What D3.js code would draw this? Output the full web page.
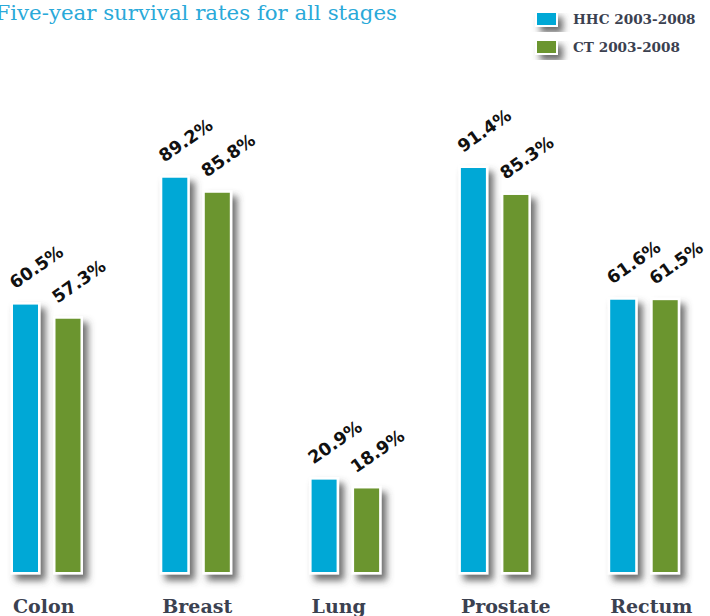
<!DOCTYPE html>
<html>
<head>
<meta charset="utf-8">
<script src="https://cdn.jsdelivr.net/npm/d3@7"></script>
<style>
  html, body { margin: 0; padding: 0; background: #fff; overflow: hidden; }
  svg { display: block; }
</style>
</head>
<body>
<script>
const categories = ["Colon", "Breast", "Lung", "Prostate", "Rectum"];
const seriesNames = ["HHC 2003-2008", "CT 2003-2008"];
const hhcValues = [60.5, 89.2, 20.9, 91.4, 61.6];
const ctValues = [57.3, 85.8, 18.9, 85.3, 61.5];
const titleText = "Five-year survival rates for all stages";

const W = 710, H = 616;
const colors = { "HHC 2003-2008": "#00a8d6", "CT 2003-2008": "#6b952f" };

const svg = d3.select("body").append("svg").attr("width", W).attr("height", H);

const defs = svg.append("defs");
const f = defs.append("filter").attr("id", "shadow")
  .attr("x", "-50%").attr("y", "-20%").attr("width", "200%").attr("height", "150%");
f.append("feGaussianBlur").attr("in", "SourceAlpha").attr("stdDeviation", 3.5).attr("result", "b");
f.append("feOffset").attr("in", "b").attr("dx", 5).attr("dy", 6).attr("result", "o");
f.append("feFlood").attr("flood-color", "#4a4a4a").attr("flood-opacity", 0.8).attr("result", "c");
f.append("feComposite").attr("in", "c").attr("in2", "o").attr("operator", "in").attr("result", "s");
const m = f.append("feMerge");
m.append("feMergeNode").attr("in", "s");
m.append("feMergeNode").attr("in", "SourceGraphic");

const data = categories.map((c, i) => ({ cat: c, vals: [
  { s: seriesNames[0], v: hhcValues[i] },
  { s: seriesNames[1], v: ctValues[i] }
]}));

const x0 = d3.scaleBand().domain(categories).range([13, 13 + 5 * 149.3]).padding(0);
const x1 = d3.scaleBand().domain(seriesNames).range([0, 67.5]).paddingInner(0.4118).paddingOuter(0);
const y = d3.scaleLinear().domain([0, 100]).range([572, 130]);

// Title
svg.append("text")
  .attr("x", 397).attr("y", 20)
  .attr("text-anchor", "end")
  .attr("font-family", "DejaVu Serif")
  .attr("font-size", 21.3)
  .attr("fill", "#2aa9d9")
  .text(titleText);

// Legend
const leg = svg.append("g");
seriesNames.forEach((s, i) => {
  const ly = 13 + i * 28;
  leg.append("rect").attr("x", 535).attr("y", ly - 2).attr("width", 23).attr("height", 16)
    .attr("fill", "#fff").attr("filter", "url(#shadow)");
  leg.append("rect").attr("x", 537).attr("y", ly).attr("width", 19).attr("height", 12)
    .attr("fill", colors[s]);
  leg.append("text").attr("x", 573).attr("y", ly + 11)
    .attr("font-family", "DejaVu Serif").attr("font-weight", "bold")
    .attr("font-size", 13.6).attr("fill", "#3b4150").text(s);
});

// Bars
const groups = svg.append("g").selectAll("g").data(data).join("g")
  .attr("transform", d => `translate(${x0(d.cat)},0)`);

groups.selectAll("rect.bg").data(d => d.vals).join("rect").attr("class", "bg")
  .attr("x", d => x1(d.s) - 2.5)
  .attr("y", d => y(d.v) - 2.5)
  .attr("width", x1.bandwidth() + 5)
  .attr("height", d => y(0) - y(d.v) + 5)
  .attr("fill", "#fff")
  .attr("filter", "url(#shadow)");

groups.selectAll("rect.bar").data(d => d.vals).join("rect").attr("class", "bar")
  .attr("x", d => x1(d.s))
  .attr("y", d => y(d.v))
  .attr("width", x1.bandwidth())
  .attr("height", d => y(0) - y(d.v))
  .attr("fill", d => colors[d.s]);

groups.selectAll("text.val").data(d => d.vals).join("text").attr("class", "val")
  .attr("transform", d => `translate(${x1(d.s) + 2},${y(d.v) - 15}) rotate(-35)`)
  .attr("font-family", "DejaVu Sans").attr("font-weight", "bold")
  .attr("font-size", 17.5).attr("fill", "#111")
  .text(d => d.v.toFixed(1) + "%");

// Category labels
groups.append("text")
  .attr("x", 0).attr("y", 613)
  .attr("font-family", "DejaVu Serif").attr("font-weight", "bold")
  .attr("font-size", 19).attr("fill", "#3b4150")
  .text(d => d.cat);
</script>
</body>
</html>
